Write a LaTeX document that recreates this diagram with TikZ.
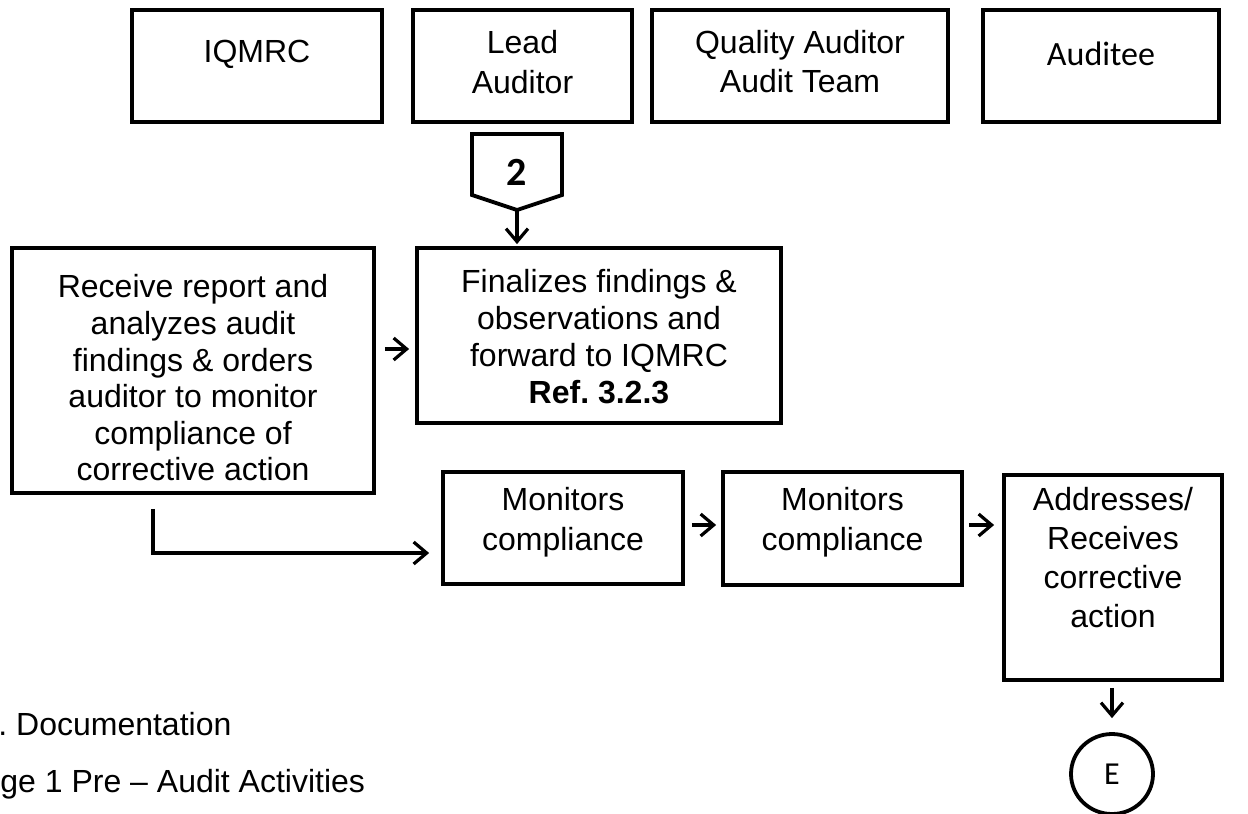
\documentclass[tikz,border=0pt]{standalone}
\usepackage{fontspec}
\setmainfont{Liberation Sans}
\newfontfamily\carlito{Carlito}
\usetikzlibrary{arrows.meta,shapes.geometric}
\frenchspacing
\begin{document}
\begin{tikzpicture}[x=0.5pt,y=-0.5pt,
  box/.style 2 args={draw, line width=1.9pt, inner sep=0pt,
    minimum width=#1*0.5pt, minimum height=#2*0.5pt},
  lbl/.style={font=\fontsize{16}{#1}\selectfont, align=center, inner sep=0pt},
  lbl/.default=18.5,
  arr/.style={line width=1.6pt, -{Straight Barb[length=6.5pt,width=11pt,line width=1.6pt]}},
]
\useasboundingbox (0,0) rectangle (1248,814);

% header row
\node[box={250}{112}] (iqmrc) at (257,66) {};
\node[lbl] (iqmrcT) at (257,54) {IQMRC};
\node[box={219}{112}] (lead) at (522.5,66) {};
\node[lbl=20] (leadT) at (522.5,62) {Lead\\Auditor};
\node[box={296}{112}] (qual) at (800,66) {};
\node[lbl=19.5] (qualT) at (800,62) {Quality Auditor\\Audit Team};
\node[box={236}{112}] (aud) at (1101,66) {};
\node[inner sep=0pt, font=\carlito\fontsize{17}{20}\selectfont] (audT) at (1101,54) {Auditee};

% off-page connector
\draw[line width=1.9pt] (472,134) -- (562,134) -- (562,195) -- (517,210) -- (472,195) -- cycle;
\coordinate (ptip) at (517,210);
\node[inner sep=0pt, font=\carlito\bfseries\fontsize{20}{22}\selectfont] (two) at (517,172) {2};

% process boxes
\node[box={364}{175}] (fin) at (599,335.5) {};
\node[lbl] (finT) at (599,337) {Finalizes findings \&\\observations and\\forward to IQMRC\\\textbf{Ref. 3.2.3}};
\node[box={362}{245}] (recv) at (193,370.5) {};
\node[lbl=18.3] (recvT) at (193,378) {Receive report and\\analyzes audit\\findings \& orders\\auditor to monitor\\compliance of\\corrective action};
\node[box={240}{112}] (mon1) at (563,528) {};
\node[lbl=20] (mon1T) at (563,522) {Monitors\\compliance};
\node[box={239}{113}] (mon2) at (842.5,528.5) {};
\node[lbl=20] (mon2T) at (842.5,522) {Monitors\\compliance};
\node[box={218}{205}] (addr) at (1113,577.5) {};
\node[lbl=19.5] (addrT) at (1113,558) {Addresses/\\Receives\\corrective\\action};
\node[draw, ellipse, line width=1.9pt, inner sep=0pt, minimum width=41pt, minimum height=40pt,
  font=\carlito\fontsize{16}{18}\selectfont] (e) at (1112,774) {E};

% connectors
\coordinate (r2f) at (0,349);
\coordinate (lcorner) at (153,553);
\coordinate (mrow) at (0,525);
\draw[arr, shorten >=1pt] (ptip) -- (fin.north -| ptip);
\draw[arr, shorten <=4.5pt, shorten >=3pt] (recv.east |- r2f) -- (fin.west |- r2f);
\draw[arr, shorten <=7pt, shorten >=6pt] (recv.south -| lcorner) |- (mon1.west |- lcorner);
\draw[arr, shorten <=3.5pt, shorten >=2.5pt] (mon1.east |- mrow) -- (mon2.west |- mrow);
\draw[arr, shorten <=2.5pt, shorten >=4pt] (mon2.east |- mrow) -- (addr.west |- mrow);
\draw[arr, shorten <=3pt, shorten >=7pt] (addr.south -| e) -- (e.north);

% page footer text
\node[anchor=base west, inner sep=0pt, font=\fontsize{16}{19}\selectfont] (doc) at (-2,735) {. Documentation};
\node[anchor=base west, inner sep=0pt, font=\fontsize{16}{19}\selectfont] (stage) at (0,792) {ge 1 Pre – Audit Activities};
\end{tikzpicture}
\end{document}
